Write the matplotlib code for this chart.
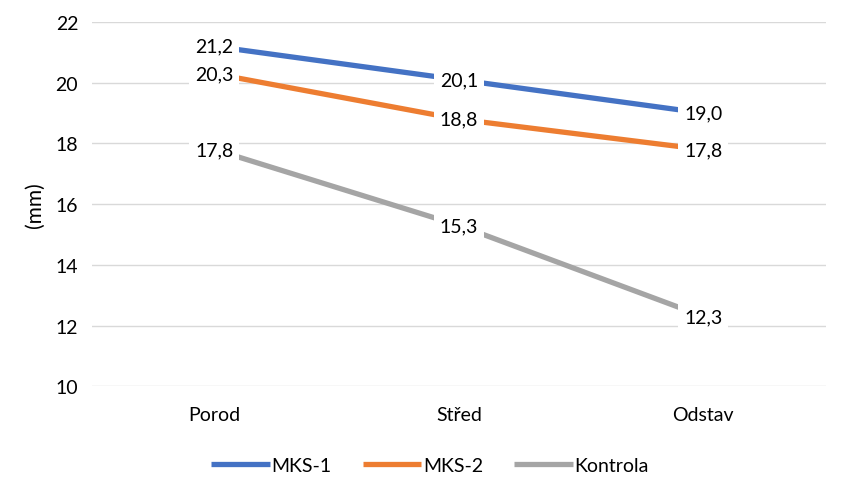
import matplotlib.pyplot as plt

plt.rcParams['font.family'] = ['Lato', 'DejaVu Sans']

categories = ['Porod', 'Střed', 'Odstav']
mks1 = [21.2, 20.1, 19.0]
mks2 = [20.3, 18.8, 17.8]
kontrola = [17.8, 15.3, 12.3]

series = [('MKS-1', mks1, '#4472C4'),
          ('MKS-2', mks2, '#ED7D31'),
          ('Kontrola', kontrola, '#A5A5A5')]

fig = plt.figure(figsize=(8.45, 4.81), dpi=100)
ax = fig.add_axes([0.109, 0.195, 0.868, 0.757])

x = range(len(categories))
for name, vals, color in series:
    ax.plot(x, vals, color=color, linewidth=3.8, label=name, solid_capstyle='butt')
    for xi, v in zip(x, vals):
        ax.text(xi, v, f'{v:.1f}'.replace('.', ','), ha='center', va='center',
                fontsize=14, color='#000000', zorder=5,
                bbox=dict(boxstyle='square,pad=0.3', facecolor='white', edgecolor='none'))

ax.set_xlim(-0.5, 2.5)
ax.set_ylim(10, 22)
ax.set_yticks(range(10, 23, 2))
ax.set_xticks(list(x))
ax.set_xticklabels(categories)
ax.tick_params(length=0, labelsize=14, colors='#000000', pad=10)
ax.tick_params(axis='x', pad=14)
ax.grid(axis='y', color='#D9D9D9', linewidth=1)
ax.set_axisbelow(True)
for s in ax.spines.values():
    s.set_visible(False)
ax.set_ylabel('(mm)', fontsize=15, labelpad=8)

ax.legend(loc='upper center', bbox_to_anchor=(0.461, -0.145), ncol=3, frameon=False,
          fontsize=14, handlelength=3.0, handletextpad=0.1, columnspacing=1.6)

fig.savefig('out.png', dpi=100)
